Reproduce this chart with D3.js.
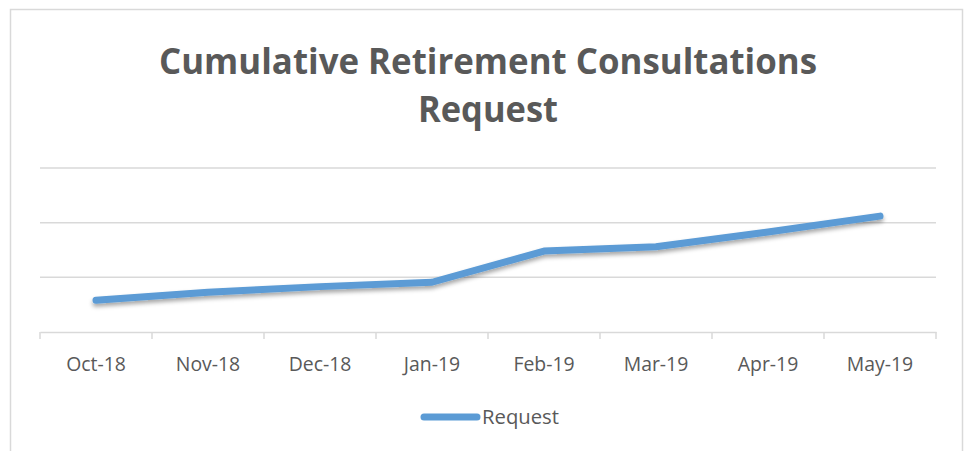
<!DOCTYPE html>
<html><head><meta charset="utf-8">
<script src="https://cdn.jsdelivr.net/npm/d3@7"></script>
<style>body{margin:0;background:#fff}svg{display:block}</style>
</head><body>
<svg id="c" width="965" height="451"></svg>
<script>
const categories = ["Oct-18","Nov-18","Dec-18","Jan-19","Feb-19","Mar-19","Apr-19","May-19"];
const requestValues = [29, 36.4, 41.5, 45.5, 74, 78, 91.5, 106];
const yTicks = [0, 50, 100, 150];
const seriesName = "Request";
const titleLines = ["Cumulative Retirement Consultations", "Request"];

(function(){
const svg = d3.select("#c");
const font = "'Open Sans', Lato, sans-serif";
const grid = "#d9d9d9";

svg.append("rect").attr("x",10.5).attr("y",9.5).attr("width",952).attr("height",460)
  .attr("fill","#fff").attr("stroke",grid).attr("stroke-width",1.5);

const pLeft = 40, pRight = 936, pTop = 168, pBottom = 332;
const x = d3.scaleBand().domain(categories).range([pLeft, pRight]).padding(0);
const y = d3.scaleLinear().domain([0, 150]).range([pBottom, pTop]);

const t = svg.append("g");
titleLines.forEach((s, i) => {
  const txt = t.append("text").attr("x", 488).attr("y", i === 0 ? 74 : 122)
    .attr("text-anchor","middle").attr("font-family",font).attr("font-weight","bold")
    .attr("font-size",36).attr("fill","#595959").text(s);
  const w = i === 0 ? 658 : 140;
  txt.attr("textLength", w).attr("lengthAdjust","spacingAndGlyphs");
});

svg.append("g").selectAll("line").data(yTicks.filter(d => d > 0)).join("line")
  .attr("x1", pLeft).attr("x2", pRight).attr("y1", d => y(d)).attr("y2", d => y(d))
  .attr("stroke", grid).attr("stroke-width", 1.5);

const xAxis = svg.append("g").attr("transform", `translate(0,${pBottom})`)
  .call(d3.axisBottom(x).tickSize(0).tickPadding(0));
xAxis.select(".domain").attr("stroke", grid).attr("stroke-width", 1.5);
xAxis.selectAll(".tick text").attr("dy", null).attr("y", 39)
  .attr("font-family", font).attr("font-size", 20).attr("fill", "#595959");
xAxis.selectAll(".tick text").each(function(){
  const n = this.getComputedTextLength();
  d3.select(this).attr("textLength", n * 0.97).attr("lengthAdjust","spacingAndGlyphs");
});
const bounds = categories.map(c => x(c)).concat([x(categories[categories.length-1]) + x.bandwidth()]);
xAxis.selectAll(".bt").data(bounds).join("line").attr("class","bt")
  .attr("x1", d => d).attr("x2", d => d).attr("y1", 0).attr("y2", 7)
  .attr("stroke", grid).attr("stroke-width", 1.5);

const defs = svg.append("defs");
const f = defs.append("filter").attr("id","sh").attr("x","-10%").attr("y","-50%").attr("width","120%").attr("height","200%");
f.append("feDropShadow").attr("dx",0).attr("dy",3).attr("stdDeviation",2)
  .attr("flood-color","#000").attr("flood-opacity",0.35);

const line = d3.line().x((d, i) => x(categories[i]) + x.bandwidth()/2).y(d => y(d));
svg.append("path").datum(requestValues).attr("d", line).attr("fill","none")
  .attr("stroke","#5b9bd5").attr("stroke-width",7).attr("stroke-linecap","round")
  .attr("stroke-linejoin","round").attr("filter","url(#sh)");

const lg = svg.append("g");
lg.append("line").attr("x1",424).attr("x2",477).attr("y1",417).attr("y2",417)
  .attr("stroke","#5b9bd5").attr("stroke-width",7).attr("stroke-linecap","round");
lg.append("text").attr("x",482).attr("y",424).attr("font-family",font).attr("font-size",20)
  .attr("fill","#595959").attr("textLength",77).attr("lengthAdjust","spacingAndGlyphs").text(seriesName);
})();
</script>
</body></html>
